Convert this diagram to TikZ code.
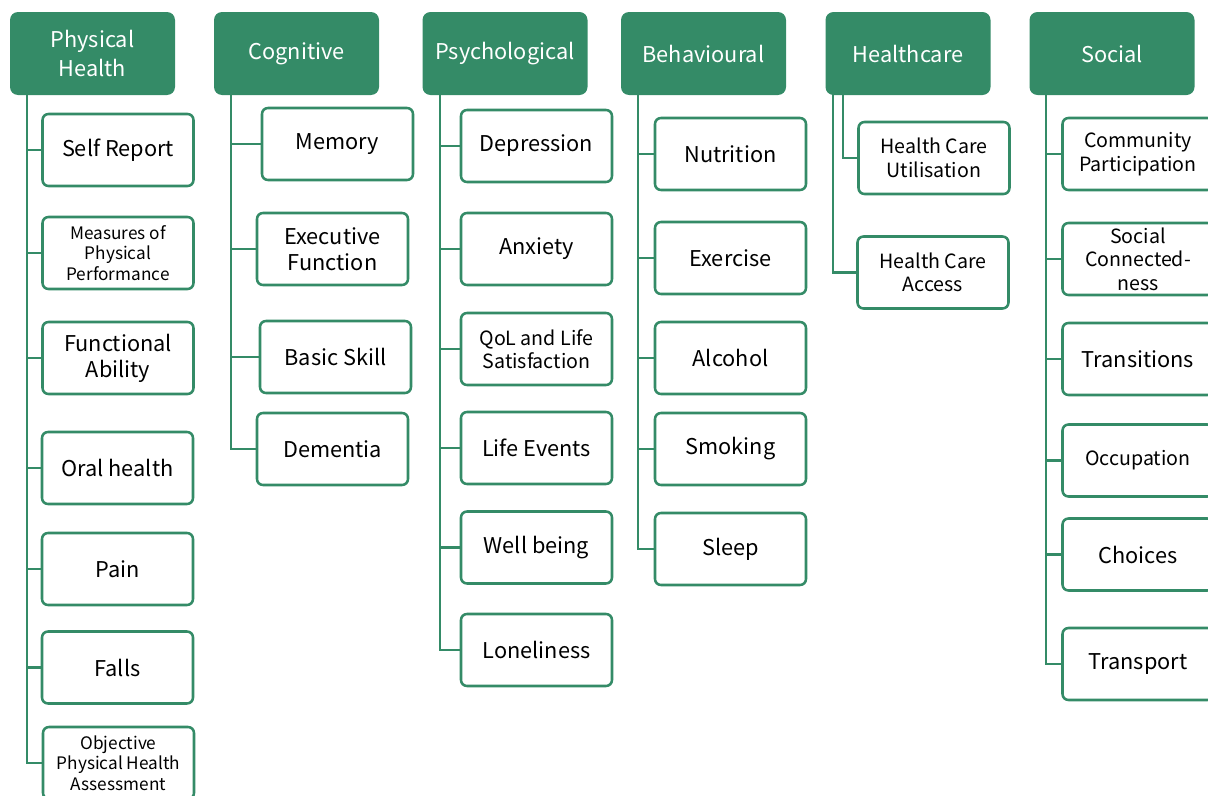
\documentclass[tikz,border=0pt]{standalone}
\usepackage{fontspec}
\setmainfont{Noto Sans CJK SC}
\definecolor{grn}{RGB}{52,139,103}
\newcommand{\fsz}[1]{\fontsize{#1}{1.2\dimexpr#1\relax}\selectfont}
\newcommand{\hfsz}[1]{\fontsize{#1}{1.33\dimexpr#1\relax}\selectfont}
\tikzset{
  hdr/.style={fill=grn, draw=none, rounded corners=6pt, text=white, inner sep=0pt,
    minimum width=123.75pt, minimum height=62.25pt, align=center, font=\hfsz{16.3pt}},
  box/.style={draw=grn, line width=1.9pt, fill=white, rounded corners=4.5pt, inner sep=0pt,
    minimum width=113.25pt, minimum height=54pt, align=center, font=\fsz{16.3pt}},
  mid/.style={font=\fsz{14.7pt}},
  sml/.style={font=\fsz{12.9pt}},
  conn/.style={draw=grn, line width=2.1pt}
}
\begin{document}
\begin{tikzpicture}[x=0.75pt,y=-0.75pt]
\useasboundingbox (0,0) rectangle (1208,796);
\clip (0,0) rectangle (1208,796);
% headers
\node[hdr] (ph) at (92.5,53.5) {Physical\\Health};
\node[hdr] (cg) at (296.5,53.5) {Cognitive};
\node[hdr] (ps) at (505,53.5) {Psychological};
\node[hdr] (bh) at (703.5,53.5) {Behavioural};
\node[hdr] (hc) at (908,53.5) {Healthcare};
\node[hdr] (so) at (1112,53.5) {Social};
% trunk start points
\coordinate (phT) at (27,94);
\coordinate (cgT) at (231,94);
\coordinate (psT) at (440,94);
\coordinate (bhT) at (638,94);
\coordinate (hcTa) at (833,94);
\coordinate (hcTb) at (843,94);
\coordinate (soT) at (1046,94);
% Physical health
\node[box] (sr) at (118,150) {Self Report};
\node[box,sml] (mp) at (118,253) {Measures of\\Physical\\Performance};
\node[box] (fa) at (118,358) {Functional\\Ability};
\node[box] (oh) at (117.5,468) {Oral health};
\node[box] (pa) at (117.5,569) {Pain};
\node[box] (fl) at (117.5,667.5) {Falls};
\node[box,sml] (ob) at (118.5,763) {Objective\\Physical Health\\Assessment};
% Cognitive
\node[box] (me) at (337.5,144) {Memory};
\node[box] (ef) at (332.5,249) {Executive\\Function};
\node[box] (bs) at (335.5,357) {Basic Skill};
\node[box] (de) at (332.5,449) {Dementia};
% Psychological
\node[box] (dp) at (536.5,146) {Depression};
\node[box] (an) at (536.5,249) {Anxiety};
\node[box,mid] (ql) at (536.5,349) {QoL and Life\\Satisfaction};
\node[box] (le) at (536.5,448) {Life Events};
\node[box] (wb) at (536.5,547.5) {Well being};
\node[box] (lo) at (536.5,650) {Loneliness};
% Behavioural
\node[box] (nu) at (730.5,154) {Nutrition};
\node[box] (ex) at (730.5,258) {Exercise};
\node[box] (al) at (730.5,358) {Alcohol};
\node[box] (sm) at (730.5,449) {Smoking};
\node[box] (sl) at (730.5,549) {Sleep};
% Healthcare
\node[box,mid] (hu) at (934,158) {Health Care\\Utilisation};
\node[box,mid] (ha) at (933,272.5) {Health Care\\Access};
% Social
\node[box,mid] (cp) at (1138,154) {Community\\Participation};
\node[box,mid] (sc) at (1138,259) {Social\\Connected-\\ness};
\node[box] (tr) at (1138,359) {Transitions};
\node[box,mid] (oc) at (1138,460.5) {Occupation};
\node[box] (ch) at (1138,554.5) {Choices};
\node[box] (tp) at (1138,664) {Transport};
% connectors
\foreach \c in {sr,mp,fa,oh,pa,fl,ob} \draw[conn] (phT) |- (\c.west);
\foreach \c in {me,ef,bs,de} \draw[conn] (cgT) |- (\c.west);
\foreach \c in {dp,an,ql,le,wb,lo} \draw[conn] (psT) |- (\c.west);
\foreach \c in {nu,ex,al,sm,sl} \draw[conn] (bhT) |- (\c.west);
\draw[conn] (hcTb) |- (hu.west);
\draw[conn] (hcTa) |- (ha.west);
\foreach \c in {cp,sc,tr,oc,ch,tp} \draw[conn] (soT) |- (\c.west);
\end{tikzpicture}
\end{document}
